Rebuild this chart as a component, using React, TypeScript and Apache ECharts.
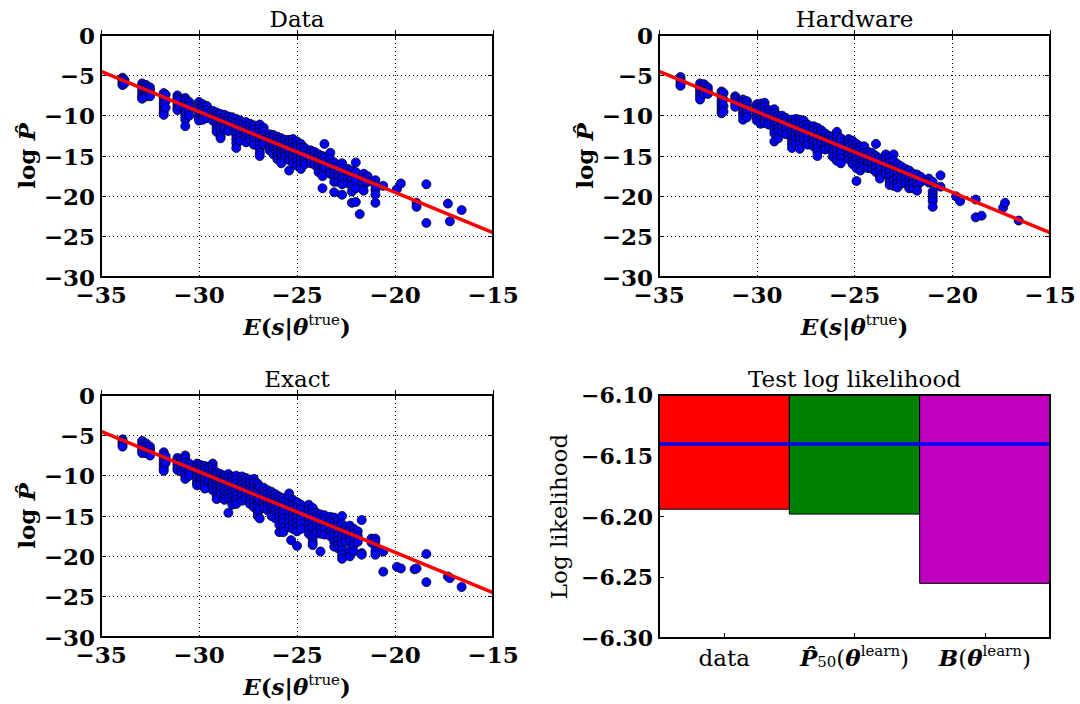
import React, { useEffect, useRef } from "react";
import * as echarts from "echarts";

// ---------- data ----------
// scatter panels: columns of [energy E(s|theta_true), list of log P-hat values]
const dataPanelCols: [number, number[]][] = [
  [-33.9, [-5.3, -5.5, -5.7, -5.9, -6.1, -6.2]],
  [-33.8, [-5.6, -6.0]],
  [-32.9, [-6.0, -6.3, -6.6, -7.0, -7.4, -7.7, -7.9]],
  [-32.7, [-6.2, -6.6, -7.0, -7.3, -7.6]],
  [-32.5, [-6.5, -6.9, -7.3, -7.6]],
  [-31.8, [-7.2, -7.6, -8.0, -8.4, -8.8, -9.2, -9.6, -9.9]],
  [-31.7, [-7.4, -8.2, -9.0]],
  [-31.1, [-7.5, -7.8, -8.2, -8.6, -9.0, -9.3]],
  [-31.0, [-8.0, -8.8]],
  [-30.7, [-7.8, -8.1, -8.5, -8.9, -9.3, -9.7, -10.1, -10.5, -11.3]],
  [-30.5, [-8.3, -8.8, -9.4, -10.0]],
  [-30.0, [-8.3, -8.7, -9.1, -9.5, -9.9, -10.3, -10.6]],
  [-29.8, [-8.6, -9.0, -9.4, -9.8, -10.2, -10.5]],
  [-29.6, [-8.8, -9.3, -9.8, -10.3]],
  [-29.3, [-9.4, -9.8, -10.2, -10.6]],
  [-29.1, [-9.6, -10.0, -10.4, -10.8, -11.2, -11.6, -12.0]],
  [-28.9, [-9.8, -10.3, -10.8, -11.3, -11.8, -12.5, -12.8]],
  [-28.7, [-9.9, -10.3, -10.7, -11.1, -11.5]],
  [-28.5, [-10.1, -10.6, -11.0, -11.5, -11.9]],
  [-28.3, [-10.2, -10.7, -11.2]],
  [-28.1, [-10.4, -10.9, -11.4, -11.9, -12.4, -12.9, -13.4, -14.0]],
  [-27.9, [-10.6, -11.1, -11.6, -12.1, -12.6, -13.1]],
  [-27.6, [-10.8, -11.3, -11.8, -12.3, -12.8, -13.3]],
  [-27.4, [-11.0, -11.5, -12.0, -12.5, -13.0]],
  [-27.2, [-11.2, -11.7, -12.2, -12.7, -13.2, -13.6]],
  [-26.9, [-11.1, -11.6, -12.1, -12.6, -13.1, -13.6, -14.1, -14.6, -15.0]],
  [-26.7, [-11.5, -12.0, -12.5, -13.0, -13.5]],
  [-26.4, [-12.3, -12.7, -13.1, -13.5, -13.9, -14.3]],
  [-26.2, [-12.4, -12.8, -13.2, -13.6, -14.0, -14.4, -14.8]],
  [-26.0, [-12.6, -13.0, -13.4, -13.8, -14.2, -14.6, -15.0, -15.4]],
  [-25.8, [-12.8, -13.2, -13.6, -14.0, -14.4, -14.8, -15.2, -15.6, -15.9]],
  [-25.6, [-13.0, -13.4, -13.8, -14.2, -14.6, -15.0]],
  [-25.4, [-13.0, -13.5, -14.0, -14.5, -15.0, -15.5, -16.8]],
  [-25.2, [-12.9, -13.4, -13.9, -14.4, -14.9, -15.4, -15.9]],
  [-25.0, [-13.2, -13.7, -14.2, -14.7, -15.2, -15.7, -16.2]],
  [-24.8, [-13.5, -14.0, -14.5, -15.0, -15.5, -16.0, -16.6]],
  [-24.6, [-14.0, -14.5, -15.0, -15.5, -16.0]],
  [-24.3, [-14.3, -14.7, -15.1, -15.5, -15.9]],
  [-24.1, [-14.5, -14.9, -15.3, -15.7, -16.1]],
  [-23.9, [-14.8, -15.2, -15.6, -16.0, -16.5, -17.0]],
  [-23.7, [-15.0, -15.5, -16.0, -16.5, -17.0, -17.5, -19.0]],
  [-23.6, [-13.5, -15.2, -15.8, -16.4]],
  [-23.3, [-14.6, -15.4, -16.0, -16.6, -17.2]],
  [-23.1, [-15.8, -16.4, -17.0, -17.6, -18.2, -19.5]],
  [-22.9, [-16.4, -17.0, -17.6, -18.2]],
  [-22.7, [-15.9, -16.6, -17.2, -17.8, -18.5, -19.8]],
  [-22.4, [-16.6, -17.2, -17.8, -18.4]],
  [-22.2, [-16.8, -17.4, -18.0, -18.6, -19.4, -20.8]],
  [-22.0, [-15.8, -17.0, -18.0, -19.0, -20.7]],
  [-21.8, [-22.2]],
  [-21.6, [-17.2, -17.8, -18.6, -19.3]],
  [-21.4, [-17.5, -18.2]],
  [-21.0, [-18.0, -18.6, -19.2, -19.8, -20.8]],
  [-20.6, [-18.7]],
  [-19.9, [-19.1]],
  [-19.7, [-18.4]],
  [-18.9, [-20.8, -21.3]],
  [-18.4, [-18.5, -23.3]],
  [-17.3, [-20.9]],
  [-17.2, [-23.1]],
  [-16.6, [-21.7]],
];

const hardwarePanelCols: [number, number[]][] = [
  [-33.9, [-5.2, -5.5, -5.8, -6.1, -6.3]],
  [-32.9, [-6.0, -6.4, -6.8, -7.2, -7.6, -8.0]],
  [-32.7, [-6.1, -6.5, -6.9, -7.3]],
  [-32.5, [-6.5, -6.9, -7.3]],
  [-31.8, [-7.0, -7.4, -7.8, -8.2, -8.6, -9.0, -9.4, -9.7]],
  [-31.7, [-7.2, -8.0, -8.8, -9.5]],
  [-31.1, [-7.6, -7.9, -8.2, -8.5, -8.9]],
  [-30.7, [-8.0, -8.4, -8.8, -9.2, -9.6, -10.0, -10.5]],
  [-30.5, [-8.2, -8.7, -9.2, -9.7, -10.2]],
  [-30.0, [-8.6, -9.0, -9.4, -9.8, -10.2, -10.6]],
  [-29.8, [-8.5, -9.0, -9.5, -10.0, -10.5, -11.0]],
  [-29.6, [-8.4, -8.9, -9.4, -9.9, -10.4, -10.9]],
  [-29.4, [-9.3, -9.8, -10.3, -10.8, -11.1]],
  [-29.1, [-9.2, -9.7, -10.2, -10.7, -11.2, -11.7, -12.2, -13.2]],
  [-28.9, [-10.0, -10.5, -11.0, -11.5, -12.0, -12.8]],
  [-28.7, [-10.0, -10.5, -11.0, -11.5, -12.0]],
  [-28.5, [-10.3, -10.8, -11.3, -11.8, -12.3]],
  [-28.2, [-10.5, -11.0, -11.5, -12.0, -12.5, -13.0, -13.5, -14.0]],
  [-28.0, [-10.4, -10.9, -11.4, -11.9, -12.4, -12.9, -13.4]],
  [-27.8, [-10.5, -11.0, -11.5, -12.0, -12.5, -13.0, -13.5, -14.1]],
  [-27.6, [-10.6, -11.2, -11.8, -12.4, -13.0]],
  [-27.4, [-11.1, -11.6, -12.1, -12.6, -13.1, -13.6]],
  [-27.1, [-11.3, -11.8, -12.3, -12.8, -13.3, -13.8]],
  [-26.9, [-11.5, -12.0, -12.5, -13.0, -13.5, -14.0, -14.5, -15.0]],
  [-26.7, [-11.8, -12.3, -12.8, -13.3]],
  [-26.5, [-12.2, -12.7, -13.2, -13.7, -14.2]],
  [-26.3, [-12.5, -13.0, -13.5, -14.0]],
  [-26.1, [-12.6, -13.1, -13.6, -14.1, -14.6, -15.1]],
  [-25.9, [-12.0, -12.6, -13.2, -13.8, -14.4, -15.0, -15.6]],
  [-25.7, [-12.8, -13.3, -13.8, -14.3, -14.8, -15.3, -15.9]],
  [-25.3, [-12.9, -13.4, -13.9, -14.4, -14.9, -15.4]],
  [-25.1, [-13.1, -13.6, -14.1, -14.6, -15.1, -15.6, -16.0]],
  [-24.9, [-13.5, -14.0, -14.5, -15.0, -15.5, -16.0, -16.5, -18.1]],
  [-24.7, [-13.8, -14.3, -14.8, -15.3, -15.8, -16.3, -16.8]],
  [-24.5, [-13.8, -14.6, -15.2, -15.8, -16.4]],
  [-24.3, [-14.5, -15.0, -15.5, -16.0, -16.5]],
  [-24.1, [-14.6, -15.1, -15.6, -16.1, -16.6]],
  [-23.9, [-13.5, -15.0, -15.5, -16.0, -16.5, -17.0]],
  [-23.7, [-15.3, -15.8, -16.3, -16.8, -17.4, -17.8]],
  [-23.4, [-14.8, -15.4, -16.0, -16.6, -17.2]],
  [-23.2, [-15.2, -15.8, -16.4, -17.0, -17.6, -18.2, -18.6]],
  [-23.0, [-14.8, -15.6, -16.4, -17.2, -18.0, -18.7]],
  [-22.8, [-16.0, -16.6, -17.2, -17.8, -18.4, -18.9]],
  [-22.6, [-16.3, -17.0, -17.7, -18.4]],
  [-22.4, [-16.6, -17.2, -17.8, -18.4]],
  [-22.2, [-16.8, -17.4, -18.0, -18.6, -19.0]],
  [-22.0, [-17.2, -17.8, -18.4, -19.0]],
  [-21.8, [-17.3, -18.0, -18.7, -19.3]],
  [-21.6, [-17.6, -18.2]],
  [-21.2, [-17.8, -18.3]],
  [-21.0, [-18.2, -19.4, -19.8, -20.2, -20.6, -21.3]],
  [-20.6, [-17.4, -18.8]],
  [-19.8, [-20.0]],
  [-19.6, [-20.6]],
  [-18.8, [-20.4, -22.6]],
  [-18.5, [-22.4]],
  [-17.4, [-21.4]],
  [-17.3, [-20.8]],
  [-16.6, [-23.0]],
];

const exactPanelCols: [number, number[]][] = [
  [-33.9, [-5.5, -5.8, -6.1, -6.4]],
  [-32.9, [-5.7, -6.1, -6.5, -6.9, -7.2]],
  [-32.7, [-6.0, -6.4, -6.8, -7.2]],
  [-32.5, [-6.4, -6.8, -7.2, -7.5]],
  [-31.8, [-7.1, -7.5, -7.9, -8.3, -8.7, -9.1, -9.4]],
  [-31.7, [-7.6, -8.4]],
  [-31.1, [-7.8, -8.2, -8.6, -9.0, -9.3]],
  [-30.9, [-8.0, -8.5, -9.0, -9.5]],
  [-30.7, [-7.5, -7.9, -8.4, -8.9, -9.4, -9.9, -10.4]],
  [-30.5, [-8.5, -9.0, -9.5, -10.0]],
  [-30.1, [-8.5, -8.9, -9.3, -9.7, -10.1, -10.5, -10.9, -11.2]],
  [-29.9, [-8.7, -9.1, -9.5, -9.9, -10.3, -10.7, -11.1]],
  [-29.7, [-8.8, -9.2, -9.6, -10.0, -10.4, -10.8, -11.2, -11.6]],
  [-29.5, [-9.0, -9.4, -9.8, -10.2, -10.6]],
  [-29.3, [-8.5, -8.9, -9.3, -9.7, -10.1, -10.5, -10.9, -11.3, -11.8]],
  [-29.1, [-9.6, -10.0, -10.4, -10.8, -11.2, -11.6, -12.0, -12.5, -12.9]],
  [-28.9, [-9.8, -10.2, -10.6, -11.0, -11.4, -11.8, -12.3]],
  [-28.7, [-10.0, -10.4, -10.8, -11.2, -11.6, -12.0, -12.6, -13.0]],
  [-28.5, [-9.8, -10.3, -10.8, -11.3, -11.8, -12.3, -12.8, -14.6]],
  [-28.3, [-10.2, -10.7, -11.2, -11.7, -12.2, -12.7, -13.2, -13.6]],
  [-28.1, [-10.0, -10.5, -11.0, -11.5, -12.0, -12.5, -13.0, -13.5]],
  [-27.8, [-10.1, -10.6, -11.1, -11.6, -12.1, -12.6, -13.1]],
  [-27.6, [-10.3, -10.8, -11.3, -11.8, -12.3, -12.8]],
  [-27.4, [-10.5, -11.0, -11.5, -12.0, -12.5, -13.0, -13.5]],
  [-27.2, [-10.4, -10.9, -11.4, -11.9, -12.4, -12.9, -13.4, -13.9]],
  [-27.0, [-11.0, -11.5, -12.0, -12.5, -13.0, -13.5, -14.0, -14.5, -15.0]],
  [-26.9, [-11.4, -12.2, -13.0, -14.2, -15.3]],
  [-26.7, [-11.5, -12.0, -12.5, -13.0, -13.5, -14.0]],
  [-26.5, [-11.8, -12.3, -12.8, -13.3, -13.8, -14.3]],
  [-26.3, [-12.0, -12.5, -13.0, -13.5, -14.0, -14.5, -15.0]],
  [-26.1, [-12.3, -12.8, -13.3, -13.8, -14.3, -14.8, -15.3]],
  [-25.9, [-12.6, -13.1, -13.6, -14.1, -14.6, -15.1, -15.6, -16.1, -17.0]],
  [-25.7, [-12.8, -13.3, -13.8, -14.3, -14.8, -15.3, -15.8, -16.5, -17.0]],
  [-25.4, [-12.2, -12.8, -13.4, -14.0, -14.6, -15.2, -15.8, -16.4]],
  [-25.3, [-18.0]],
  [-25.2, [-13.0, -13.6, -14.2, -14.8, -15.4, -16.0, -16.6]],
  [-25.0, [-13.3, -13.9, -14.5, -15.1, -15.7, -16.3, -16.9, -18.7]],
  [-24.8, [-13.6, -14.2, -14.8, -15.4, -16.0, -16.6]],
  [-24.4, [-13.6, -14.2, -14.8, -15.4, -16.0, -16.6, -17.2]],
  [-24.2, [-14.0, -14.6, -15.2, -15.8, -16.4, -17.4, -17.8, -18.3, -18.6]],
  [-24.0, [-14.6, -15.2, -15.8, -16.4, -17.0]],
  [-23.8, [-14.8, -15.4, -16.0, -16.6, -17.2, -19.4]],
  [-23.6, [-14.9, -15.5, -16.1, -16.7, -17.3]],
  [-23.3, [-15.1, -15.7, -16.3, -16.9, -17.5]],
  [-23.1, [-15.2, -15.8, -16.4, -17.0, -17.6, -18.2, -18.8]],
  [-22.9, [-15.6, -16.2, -16.8, -17.4, -18.0, -18.6, -19.0]],
  [-22.7, [-15.0, -16.0, -16.8, -17.6, -18.4, -19.2, -19.8, -20.3]],
  [-22.5, [-16.4, -17.0, -17.6, -18.2]],
  [-22.3, [-16.2, -16.8, -17.4, -18.0, -19.3, -20.0]],
  [-22.1, [-16.6, -17.2, -17.8, -18.6, -19.4]],
  [-21.9, [-16.9, -17.5, -18.2]],
  [-21.7, [-15.5, -19.6, -19.8]],
  [-21.2, [-17.8, -18.3]],
  [-21.0, [-17.8, -18.2, -18.8, -19.4, -19.8]],
  [-20.6, [-19.4, -21.9]],
  [-19.9, [-21.3]],
  [-19.7, [-21.5]],
  [-19.0, [-21.6]],
  [-18.9, [-21.5]],
  [-18.4, [-19.7, -23.2]],
  [-17.3, [-22.5]],
  [-17.2, [-22.7]],
  [-16.6, [-23.8]],
];

// fitted line  log P = -E - log Z
const fitLineX = [-35, -15];
const fitLineY = [-4.5, -24.5];

const scatterTitles = ["Data", "Hardware", "Exact"];
const xTicksScatter = [-35, -30, -25, -20, -15];
const yTicksScatter = [-30, -25, -20, -15, -10, -5, 0];

// test log likelihood panel
const llCategories = ["data", "P\u030250(θlearn)", "B(θlearn)"];
const llValues = [-6.194, -6.198, -6.255];
const llReference = -6.136;
const llTicks = [-6.3, -6.25, -6.2, -6.15, -6.1];

// ---------- styles ----------
const FONT = "DejaVu Serif";
const barColors = ["#ff0000", "#008000", "#bf00bf"];
const GRIDS = [
  { left: 101, top: 35, width: 392, height: 242 },
  { left: 659, top: 35, width: 391, height: 242 },
  { left: 101, top: 395, width: 392, height: 242 },
  { left: 659, top: 395, width: 391, height: 243 },
];

const minus = (s: string) => s.replace("-", "\u2212");

const toPoints = (cols: [number, number[]][]) =>
  cols.flatMap(([x, ys]) => ys.map((y) => [x, y]));

const panelCols = [dataPanelCols, hardwarePanelCols, exactPanelCols];

const tokenBase = { fontFamily: FONT, color: "#000", fill: "#000", verticalAlign: "bottom" };
const richMath: any = {
  b: { ...tokenBase, fontSize: 23, fontWeight: "bold", lineHeight: 26 },
  bi: { ...tokenBase, fontSize: 23, fontWeight: "bold", fontStyle: "italic", lineHeight: 26 },
  r: { ...tokenBase, fontSize: 23, lineHeight: 26 },
  sup: { ...tokenBase, fontSize: 15, lineHeight: 15, padding: [0, 0, 11, 0] },
  sub: { ...tokenBase, fontSize: 15, lineHeight: 15 },
};

const catLabelRich: Record<string, string> = {
  [llCategories[0]]: "{r|data}",
  [llCategories[1]]: "{bi|P\u0302}{sub|50}{r|(}{bi|θ}{sup|learn}{r|)}",
  [llCategories[2]]: "{bi|B}{r|(}{bi|θ}{sup|learn}{r|)}",
};

function buildOption() {
  const xAxis: any[] = [];
  const yAxis: any[] = [];
  const series: any[] = [];
  const graphic: any[] = [];

  const tickLabel = { fontFamily: FONT, fontWeight: "bold", fontSize: 23, color: "#000", lineHeight: 16 };
  const tick = { show: true, inside: true, length: 5, lineStyle: { color: "#000", width: 1 } };
  const split = { show: true, lineStyle: { color: "#000", width: 1, type: [1, 3] } };

  // scatter panels
  for (let i = 0; i < 3; i++) {
    xAxis.push({
      gridIndex: i, type: "value", min: xTicksScatter[0], max: xTicksScatter[xTicksScatter.length - 1], interval: 5,
      axisLine: { show: false }, axisTick: tick, splitLine: split,
      axisLabel: { ...tickLabel, margin: 9, formatter: (v: number) => minus(String(v)) },
    });
    yAxis.push({
      gridIndex: i, type: "value", min: yTicksScatter[0], max: yTicksScatter[yTicksScatter.length - 1], interval: 5,
      axisLine: { show: false }, axisTick: tick, splitLine: split,
      axisLabel: { ...tickLabel, margin: 6, formatter: (v: number) => minus(String(v)) },
    });
  }
  // likelihood panel
  xAxis.push({
    gridIndex: 3, type: "category", data: llCategories, boundaryGap: true,
    axisLine: { show: false }, axisTick: { ...tick, alignWithLabel: true }, splitLine: { show: false },
    axisLabel: { margin: 5, formatter: (v: string) => catLabelRich[v] || v, rich: richMath, interval: 0 },
  });
  yAxis.push({
    gridIndex: 3, type: "value", min: llTicks[0], max: llTicks[llTicks.length - 1], interval: 0.05,
    axisLine: { show: false }, axisTick: tick, splitLine: { show: false },
    axisLabel: { ...tickLabel, fontSize: 22, margin: 6, formatter: (v: number) => minus(v.toFixed(2)) },
  });
  // mirrored ticks on top / right
  for (let i = 0; i < 4; i++) {
    const isCat = i === 3;
    xAxis.push({
      gridIndex: i, position: "top",
      ...(isCat
        ? { type: "category", data: llCategories, boundaryGap: true, axisTick: { ...tick, alignWithLabel: true } }
        : { type: "value", min: -35, max: -15, interval: 5, axisTick: tick }),
      axisLine: { show: false }, axisLabel: { show: false }, splitLine: { show: false },
    });
    yAxis.push({
      gridIndex: i, position: "right", type: "value",
      ...(isCat ? { min: -6.3, max: -6.1, interval: 0.05 } : { min: -30, max: 0, interval: 5 }),
      axisTick: tick, axisLine: { show: false }, axisLabel: { show: false }, splitLine: { show: false },
    });
  }

  for (let i = 0; i < 3; i++) {
    series.push({
      type: "scatter", xAxisIndex: i, yAxisIndex: i, data: toPoints(panelCols[i]),
      symbol: "circle", symbolSize: 9, z: 2,
      itemStyle: { color: "#0000ff", borderColor: "#000", borderWidth: 0.8, opacity: 1 },
    });
    series.push({
      type: "line", xAxisIndex: i, yAxisIndex: i, z: 3,
      data: fitLineX.map((x, k) => [x, fitLineY[k]]),
      symbol: "none", showSymbol: false,
      lineStyle: { color: "#ff0000", width: 3.5 },
    });
  }

  series.push({
    type: "custom", xAxisIndex: 3, yAxisIndex: 3, z: 2,
    data: llValues.map((v, k) => [k, v]),
    renderItem: (params: any, api: any) => {
      const idx = api.value(0);
      const c = api.coord([idx, api.value(1)]);
      const w = api.size([1, 0])[0];
      const top = params.coordSys.y;
      return {
        type: "rect",
        shape: { x: c[0] - w / 2, y: top, width: w, height: c[1] - top },
        style: { fill: barColors[idx], stroke: "#000", lineWidth: 1 },
      };
    },
    markLine: {
      silent: true, symbol: "none", label: { show: false },
      lineStyle: { color: "#0000ff", width: 3.5, type: "solid" },
      data: [{ yAxis: llReference }],
    },
  });

  // frames
  GRIDS.forEach((g) => {
    graphic.push({
      type: "rect", z: 100, silent: true,
      shape: { x: g.left, y: g.top, width: g.width, height: g.height },
      style: { fill: "none", stroke: "#000", lineWidth: 2 },
    });
  });

  // titles and axis names
  const titleFont = { fontFamily: FONT, fontSize: 23, fill: "#000" };
  const titles = [...scatterTitles, "Test log likelihood"];
  GRIDS.forEach((g, i) => {
    graphic.push({
      type: "text", z: 100, x: g.left + g.width / 2, y: g.top - 16,
      style: { ...titleFont, text: titles[i], align: "center", verticalAlign: "middle" },
    });
  });
  for (let i = 0; i < 3; i++) {
    const g = GRIDS[i];
    graphic.push({
      type: "text", z: 100, x: g.left + g.width / 2, y: g.top + g.height + 48,
      style: {
        text: "{bi|E}{b|(}{bi|s}{b||}{bi|θ}{sup|true}{b|)}", rich: richMath,
        align: "center", verticalAlign: "middle", fill: "#000",
      },
    });
    graphic.push({
      type: "text", z: 100, x: g.left - 76, y: g.top + g.height / 2, rotation: Math.PI / 2,
      style: {
        text: "{b|log }{bi|P\u0302}", rich: richMath,
        align: "center", verticalAlign: "middle", fill: "#000",
      },
    });
  }
  {
    const g = GRIDS[3];
    graphic.push({
      type: "text", z: 100, x: g.left - 100, y: g.top + g.height / 2, rotation: Math.PI / 2,
      style: { ...titleFont, text: "Log likelihood", align: "center", verticalAlign: "middle" },
    });
  }

  return {
    animation: false,
    backgroundColor: "#fff",
    textStyle: { fontFamily: FONT },
    grid: GRIDS.map((g) => ({ ...g, containLabel: false, show: false })),
    xAxis, yAxis, series,
    graphic: { elements: graphic },
  };
}

export default function App() {
  const ref = useRef<HTMLDivElement>(null);
  useEffect(() => {
    if (!ref.current) return;
    const chart = echarts.init(ref.current, null, { renderer: "svg" });
    chart.setOption(buildOption() as any);
    return () => chart.dispose();
  }, []);
  return (
    <div
      ref={ref}
      style={{ position: "absolute", left: 0, top: 0, width: 1080, height: 704, background: "#fff" }}
    />
  );
}
